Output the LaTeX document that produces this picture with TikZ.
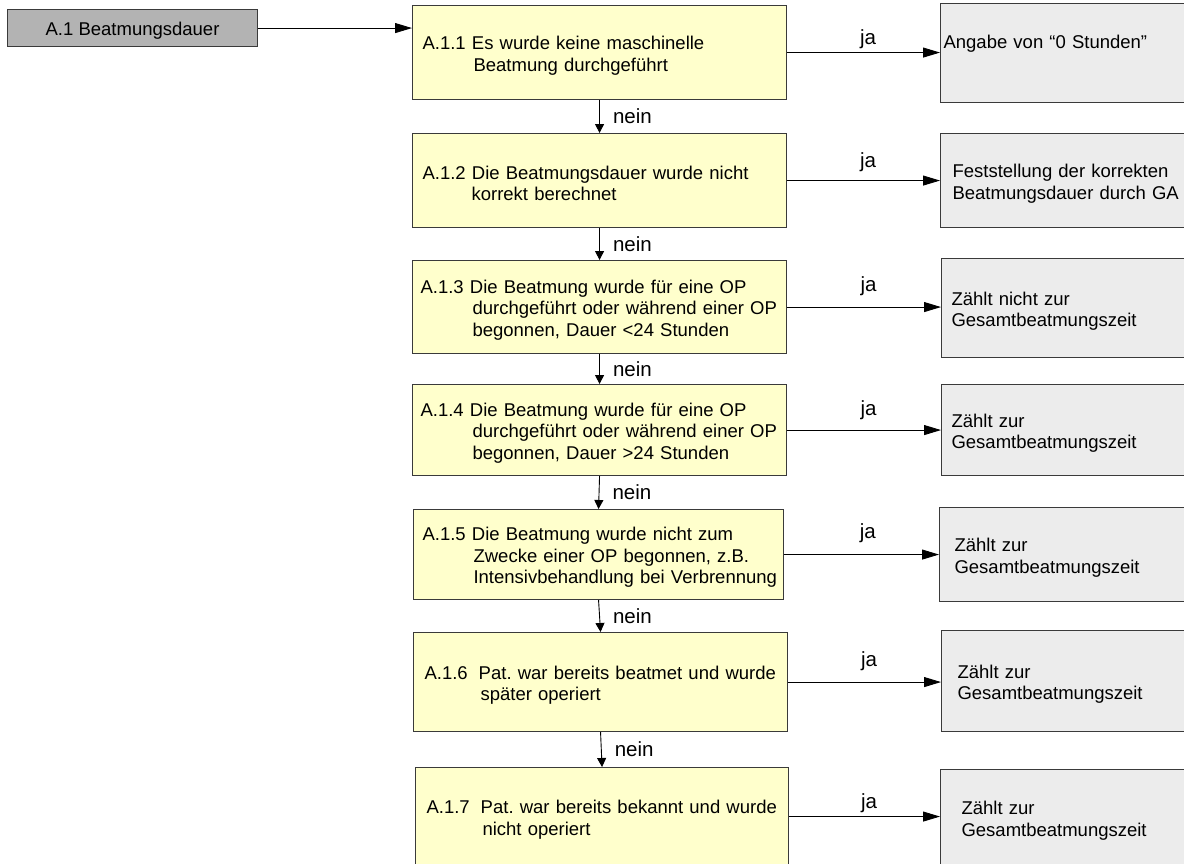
\documentclass[tikz,border=0pt]{standalone}
\usepackage{fontspec}
\setmainfont{Liberation Sans}
\usetikzlibrary{arrows.meta}
\definecolor{yel}{HTML}{FFFFCC}
\definecolor{lgray}{HTML}{ECECEC}
\definecolor{dgray}{HTML}{B3B3B3}
\definecolor{edge}{HTML}{3A3A3A}
\newcommand\tline[2]{\hspace*{#1}\raisebox{-3pt}[\height][\depth]{#2}}
\begin{document}
\begin{tikzpicture}[x=1pt,y=-1pt,
  every node/.style={font=\fontsize{18.5}{21.5}\selectfont\frenchspacing},
  ybox/.style={draw=edge, line width=1.1pt, fill=yel, anchor=north west, align=left, inner ysep=0pt},
  rbox/.style={draw=edge, line width=1.1pt, fill=lgray, anchor=north west, align=left, inner ysep=0pt},
  topbox/.style={draw=edge, line width=1.1pt, fill=dgray, anchor=north west, inner sep=0pt},
  harrow/.style={draw=black, line width=0.9pt, -{Triangle[length=17pt,width=10pt]}},
  varrow/.style={draw=black, line width=0.9pt, -{Triangle[length=9pt,width=9pt]}},
  lab/.style={font=\fontsize{20.5}{22}\selectfont, inner sep=0pt}
]
\useasboundingbox (0,0) rectangle (1184,863);
\clip (0,0) rectangle (1184,863);

% top-left box
\node[topbox, minimum width=250pt, minimum height=37pt] (a1) at (7,9) {\tline{0pt}{A.1 Beatmungsdauer}};

% yellow decision boxes
\node[ybox, minimum width=374pt, text width=354pt, inner xsep=10pt, minimum height=94pt] (b1) at (412,5)
  {\tline{0pt}{A.1.1 Es wurde keine maschinelle}\\\tline{51pt}{Beatmung durchgeführt}};
\node[ybox, minimum width=374pt, text width=354pt, inner xsep=10pt, minimum height=94pt] (b2) at (412,133)
  {\tline{0pt}{A.1.2 Die Beatmungsdauer wurde nicht}\\\tline{49pt}{korrekt berechnet}};
\node[ybox, minimum width=374pt, text width=358pt, inner xsep=8pt, minimum height=93pt] (b3) at (412,260)
  {\tline{0pt}{A.1.3 Die Beatmung wurde für eine OP}\\\tline{52pt}{durchgeführt oder während einer OP}\\\tline{52pt}{begonnen, Dauer <24 Stunden}};
\node[ybox, minimum width=374pt, text width=358pt, inner xsep=8pt, minimum height=91pt] (b4) at (412,384)
  {\tline{0pt}{A.1.4 Die Beatmung wurde für eine OP}\\\tline{52pt}{durchgeführt oder während einer OP}\\\tline{52pt}{begonnen, Dauer >24 Stunden}};
\node[ybox, minimum width=370pt, text width=352pt, inner xsep=9pt, minimum height=90pt] (b5) at (413,509)
  {\tline{0pt}{A.1.5 Die Beatmung wurde nicht zum}\\\tline{51pt}{Zwecke einer OP begonnen, z.B.}\\\tline{51pt}{Intensivbehandlung bei Verbrennung}};
\node[ybox, minimum width=374pt, text width=352pt, inner xsep=11pt, minimum height=99pt] (b6) at (413,632)
  {\tline{0pt}{A.1.6\hspace*{11pt}Pat. war bereits beatmet und wurde}\\\tline{56pt}{später operiert}};
\node[ybox, minimum width=373pt, text width=351pt, inner xsep=11pt, minimum height=98pt] (b7) at (415,767)
  {\tline{0pt}{A.1.7\hspace*{11pt}Pat. war bereits bekannt und wurde}\\\tline{56pt}{nicht operiert}};

% grey result boxes
\node[rbox, minimum width=260pt, text width=254pt, inner xsep=3pt, minimum height=99pt] (r1) at (940,3)
  {\tline{0pt}{Angabe von “0 Stunden”}\\\strut};
\node[rbox, minimum width=260pt, text width=236pt, inner xsep=12pt, minimum height=94pt] (r2) at (940,133)
  {\tline{0pt}{Feststellung der korrekten}\\\tline{0pt}{Beatmungsdauer durch GA}};
\node[rbox, minimum width=260pt, text width=240pt, inner xsep=10pt, minimum height=99pt] (r3) at (941,258)
  {\tline{0pt}{Zählt nicht zur}\\\tline{0pt}{Gesamtbeatmungszeit}};
\node[rbox, minimum width=260pt, text width=240pt, inner xsep=10pt, minimum height=91pt] (r4) at (941,384)
  {\tline{0pt}{Zählt zur}\\\tline{0pt}{Gesamtbeatmungszeit}};
\node[rbox, minimum width=260pt, text width=230pt, inner xsep=15pt, minimum height=94pt] (r5) at (939,507)
  {\tline{0pt}{Zählt zur}\\\tline{0pt}{Gesamtbeatmungszeit}};
\node[rbox, minimum width=260pt, text width=228pt, inner xsep=16pt, minimum height=101pt] (r6) at (941,630)
  {\tline{0pt}{Zählt zur}\\\tline{0pt}{Gesamtbeatmungszeit}};
\node[rbox, minimum width=260pt, text width=218pt, inner xsep=21pt, minimum height=96pt] (r7) at (940,769)
  {\tline{0pt}{Zählt zur}\\\tline{0pt}{Gesamtbeatmungszeit}};

% entry arrow
\draw[harrow] (a1.east) -- (a1.east -| b1.west);

% ja arrows
\draw[harrow] (b1.east) -- (b1.east -| r1.west) node[lab, pos=0.53, anchor=base, yshift=8pt] (j1) {ja};
\draw[harrow] (b2.east) -- (b2.east -| r2.west) node[lab, pos=0.53, anchor=base, yshift=13pt] (j2) {ja};
\draw[harrow] (b3.east) -- (b3.east -| r3.west) node[lab, pos=0.53, anchor=base, yshift=16pt] (j3) {ja};
\draw[harrow] (b4.east) -- (b4.east -| r4.west) node[lab, pos=0.53, anchor=base, yshift=15pt] (j4) {ja};
\draw[harrow] (b5.east) -- (b5.east -| r5.west) node[lab, pos=0.54, anchor=base, yshift=16pt] (j5) {ja};
\draw[harrow] (b6.east) -- (b6.east -| r6.west) node[lab, pos=0.53, anchor=base, yshift=16pt] (j6) {ja};
\draw[harrow] (b7.east) -- (b7.east -| r7.west) node[lab, pos=0.53, anchor=base, yshift=8pt] (j7) {ja};

% nein arrows
\draw[varrow] (b1.south) -- (b2.north) node[lab, midway, anchor=base west, xshift=13pt, yshift=-7pt] (n1) {nein};
\draw[varrow] (b2.south) -- (b3.north) node[lab, midway, anchor=base west, xshift=13pt, yshift=-7pt] (n2) {nein};
\draw[varrow] (b3.south) -- (b4.north) node[lab, midway, anchor=base west, xshift=13pt, yshift=-7pt] (n3) {nein};
\draw[varrow] (b4.south) -- (b5.north) node[lab, midway, anchor=base west, xshift=13pt, yshift=-7pt] (n4) {nein};
\draw[varrow] (b5.south) -- (b6.north) node[lab, midway, anchor=base west, xshift=13pt, yshift=-7pt] (n5) {nein};
\draw[varrow] (b6.south) -- (b7.north) node[lab, midway, anchor=base west, xshift=13pt, yshift=-7pt] (n6) {nein};
\end{tikzpicture}
\end{document}
